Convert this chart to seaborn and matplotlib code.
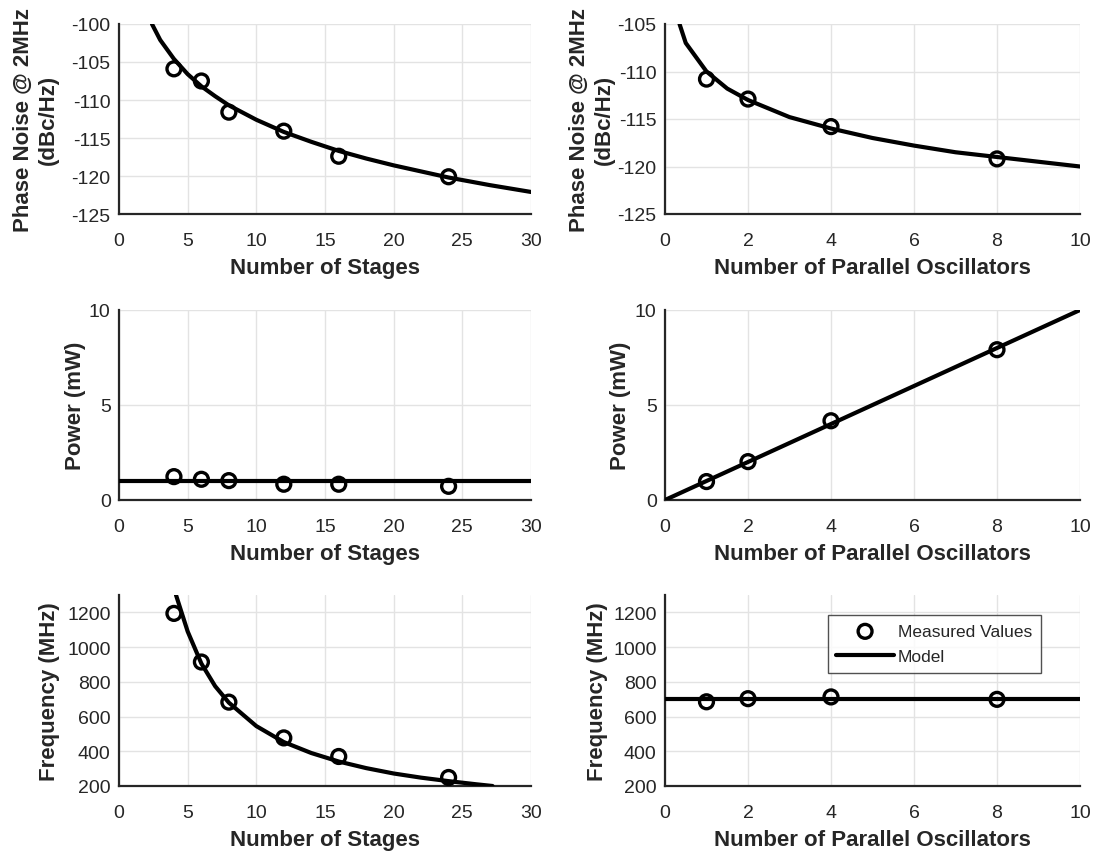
import numpy as np
import pandas as pd
import matplotlib
matplotlib.use("Agg")
import matplotlib.pyplot as plt
import seaborn as sns

# ---------------- data ----------------
stages = [4, 6, 8, 12, 16, 24]
parallel = [1, 2, 4, 8]

pn_stages_meas = [-105.9, -107.5, -111.6, -114.1, -117.4, -120.1]
pn_par_meas = [-110.8, -112.9, -115.8, -119.2]
pw_stages_meas = [1.23, 1.09, 1.02, 0.83, 0.83, 0.72]
pw_par_meas = [0.97, 2.02, 4.17, 7.91]
fr_stages_meas = [1194, 914, 683, 477, 370, 249]
fr_par_meas = [685, 703, 713, 699]

# model curves
pn_stages_model_x = [2.4, 3, 4, 5, 6, 7, 8, 10, 12, 14, 16, 18, 20, 22, 24, 27, 30]
pn_stages_model_y = [-100.0, -102.1, -104.6, -106.6, -108.2, -109.5, -110.7, -112.6, -114.2,
                     -115.5, -116.7, -117.7, -118.6, -119.4, -120.2, -121.2, -122.1]
pn_par_model_x = [0.35, 0.5, 1, 1.5, 2, 3, 4, 5, 6, 7, 8, 9, 10]
pn_par_model_y = [-105.0, -107.0, -110.0, -111.8, -113.0, -114.8, -116.0, -117.0, -117.8,
                  -118.5, -119.0, -119.5, -120.0]
pw_stages_model_x = [0, 30]
pw_stages_model_y = [1.0, 1.0]
pw_par_model_x = [0, 10]
pw_par_model_y = [0.0, 10.0]
fr_stages_model_x = [4.15, 5, 6, 7, 8, 10, 12, 14, 16, 18, 20, 22, 24, 26, 27.2]
fr_stages_model_y = [1300, 1090, 905, 775, 680, 545, 453, 390, 341, 303, 272, 248, 228, 210, 200]
fr_par_model_x = [0, 10]
fr_par_model_y = [700, 700]

# ---------------- style ----------------
sns.set_theme(style="white")
plt.rcParams['font.family'] = ['Liberation Sans', 'DejaVu Sans']
dark = '#262626'
plt.rcParams.update({
    'axes.edgecolor': dark,
    'axes.labelcolor': dark,
    'xtick.color': dark,
    'ytick.color': dark,
    'xtick.direction': 'in',
    'ytick.direction': 'in',
    'axes.unicode_minus': False,
})

fig = plt.figure(figsize=(10.94, 8.54), dpi=100)

lefts = [119 / 1094, 665 / 1094]
widths = [412 / 1094, 415 / 1094]
bottoms = [1 - 215 / 854, 1 - 501 / 854, 1 - 787 / 854]
heights = [190 / 854, 190 / 854, 191 / 854]
ylabelpads = [[9, 2], [2, 3], [5, 4]]

panels = [
    [(stages, pn_stages_meas, pn_stages_model_x, pn_stages_model_y, (0, 30), np.arange(0, 31, 5),
      (-125, -100), np.arange(-125, -99, 5), 'Phase Noise @ 2MHz\n(dBc/Hz)', 'Number of Stages'),
     (parallel, pn_par_meas, pn_par_model_x, pn_par_model_y, (0, 10), np.arange(0, 11, 2),
      (-125, -105), np.arange(-125, -104, 5), 'Phase Noise @ 2MHz\n(dBc/Hz)', 'Number of Parallel Oscillators')],
    [(stages, pw_stages_meas, pw_stages_model_x, pw_stages_model_y, (0, 30), np.arange(0, 31, 5),
      (0, 10), [0, 5, 10], 'Power (mW)', 'Number of Stages'),
     (parallel, pw_par_meas, pw_par_model_x, pw_par_model_y, (0, 10), np.arange(0, 11, 2),
      (0, 10), [0, 5, 10], 'Power (mW)', 'Number of Parallel Oscillators')],
    [(stages, fr_stages_meas, fr_stages_model_x, fr_stages_model_y, (0, 30), np.arange(0, 31, 5),
      (200, 1300), np.arange(200, 1201, 200), 'Frequency (MHz)', 'Number of Stages'),
     (parallel, fr_par_meas, fr_par_model_x, fr_par_model_y, (0, 10), np.arange(0, 11, 2),
      (200, 1300), np.arange(200, 1201, 200), 'Frequency (MHz)', 'Number of Parallel Oscillators')],
]

for r in range(3):
    for c in range(2):
        (mx, my, lx, ly, xl, xt, yl, yt, ylab, xlab) = panels[r][c]
        ax = fig.add_axes([lefts[c], bottoms[r], widths[c], heights[r]])
        sns.lineplot(x=lx, y=ly, ax=ax, color='black', linewidth=3.0, sort=False,
                     estimator=None, label='Model', zorder=3)
        sns.scatterplot(x=mx, y=my, ax=ax, marker='o', s=100, facecolor='none',
                        edgecolor='black', linewidth=2.4, label='Measured Values', zorder=4)
        ax.set_xlim(*xl)
        ax.set_ylim(*yl)
        ax.set_xticks(xt)
        ax.set_yticks(yt)
        ax.grid(True, color='#e3e3e3', linewidth=1.0)
        ax.set_axisbelow(True)
        for s in ['top', 'right']:
            ax.spines[s].set_visible(False)
        for s in ['left', 'bottom']:
            ax.spines[s].set_linewidth(1.6)
        ax.tick_params(axis='both', labelsize=14, length=4, width=1.2)
        ax.tick_params(axis='x', pad=13)
        ax.tick_params(axis='y', pad=6)
        ax.set_xlabel(xlab, fontsize=16, fontweight='bold', labelpad=6)
        ax.set_ylabel(ylab, fontsize=16, fontweight='bold', labelpad=ylabelpads[r][c],
                      linespacing=1.25)
        leg = ax.get_legend()
        if leg is not None:
            leg.remove()
        if r == 2 and c == 1:
            h, l = ax.get_legend_handles_labels()
            order = [l.index('Measured Values'), l.index('Model')]
            lg = ax.legend([h[i] for i in order], [l[i] for i in order],
                           loc='upper right', bbox_to_anchor=(0.906, 0.895),
                           borderaxespad=0.0,
                           fontsize=12.5, frameon=True, fancybox=False,
                           edgecolor=dark, handlelength=3.3, borderpad=0.5,
                           labelspacing=0.6, handletextpad=0.25)
            lg.get_frame().set_linewidth(1.0)

fig.savefig('out.png', dpi=100)
